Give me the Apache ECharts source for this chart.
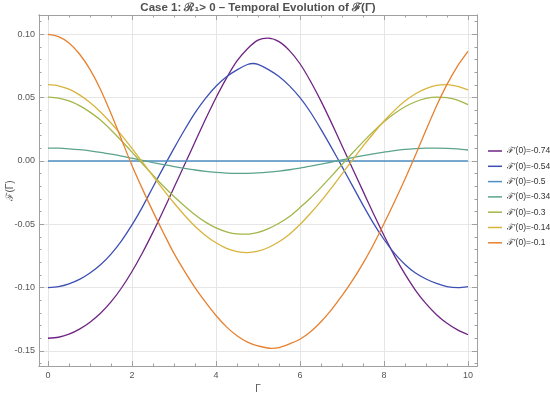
<!DOCTYPE html>
<html>
<head>
<meta charset="utf-8">
<script src="https://cdn.jsdelivr.net/npm/echarts@6/dist/echarts.min.js"></script>
<style>html,body{margin:0;padding:0;background:#fff}#c{width:550px;height:396px}</style>
</head>
<body>
<div id="c"></div>
<script>
// ---- data ----
const seriesNames = ['ℱ′(0)=-0.74','ℱ′(0)=-0.54','ℱ′(0)=-0.5','ℱ′(0)=-0.34','ℱ′(0)=-0.3','ℱ′(0)=-0.14','ℱ′(0)=-0.1'];

const gQuarter = [0,0.25,0.5,0.75,1,1.25,1.5,1.75,2,2.25,2.5,2.75,3,3.25,3.5,3.75,4,4.25,4.5,4.75,5,5.25,5.5,5.75,6,6.25,6.5,6.75,7,7.25,7.5,7.75,8,8.25,8.5,8.75,9,9.25,9.5,9.75,10];

const gPurple = [0,0.25,0.5,0.75,1,1.25,1.5,1.75,2,2.25,2.5,2.75,3,3.25,3.5,3.75,4,4.25,4.5,4.75,5,5.23,5.5,5.75,6,6.25,6.5,6.75,7,7.25,7.5,7.75,8,8.25,8.5,8.75,9,9.25,9.5,9.75,10];
const fPurple = [-0.140,-0.1392,-0.1368,-0.1328,-0.1273,-0.1203,-0.1113,-0.1003,-0.0873,-0.0725,-0.0562,-0.0389,-0.021,-0.003,0.015,0.033,0.050,0.0655,0.079,0.0887,0.0954,0.097,0.0943,0.0872,0.0768,0.0630,0.0473,0.0301,0.0121,-0.0059,-0.0238,-0.0417,-0.0588,-0.0749,-0.0894,-0.1021,-0.1127,-0.1214,-0.1282,-0.1334,-0.1372];

const gBlue = [0,0.25,0.5,0.75,1,1.25,1.5,1.75,2,2.25,2.5,2.75,3,3.25,3.5,3.75,4,4.25,4.5,4.75,4.88,5,5.25,5.5,5.75,6,6.25,6.5,6.75,7,7.25,7.5,7.75,8,8.25,8.5,8.75,9,9.25,9.5,9.76,10];
const fBlue = [-0.100,-0.0992,-0.097,-0.0935,-0.0885,-0.082,-0.0735,-0.063,-0.0505,-0.0362,-0.0205,-0.005,0.010,0.0245,0.038,0.0495,0.059,0.0665,0.072,0.0762,0.077,0.0763,0.0722,0.0667,0.0593,0.0500,0.0385,0.0250,0.0106,-0.0044,-0.0196,-0.0348,-0.0492,-0.0620,-0.0730,-0.0817,-0.0885,-0.0932,-0.0967,-0.0992,-0.100,-0.0992];

const gLight = [0,2.5,5,7.5,10];
const fLight = [0,0,0,0,0];

const fTeal = [0.0102,0.0101,0.0096,0.0089,0.0080,0.0068,0.0054,0.0039,0.0022,0.0005,-0.0012,-0.0028,-0.0044,-0.0058,-0.0071,-0.0082,-0.0090,-0.0095,-0.0098,-0.0097,-0.0094,-0.0088,-0.0080,-0.0069,-0.0056,-0.0041,-0.0025,-0.0008,0.0009,0.0026,0.0042,0.0057,0.0070,0.0082,0.0091,0.0097,0.0101,0.0102,0.0100,0.0095,0.0087];

const fGreen = [0.0505,0.0497,0.0474,0.0437,0.0386,0.0323,0.0245,0.0160,0.0070,-0.0022,-0.0112,-0.0200,-0.0281,-0.0355,-0.0424,-0.0483,-0.0528,-0.0559,-0.0576,-0.0578,-0.0564,-0.0534,-0.0492,-0.0438,-0.0368,-0.0292,-0.0208,-0.0119,-0.0028,0.0063,0.0151,0.0234,0.0309,0.0375,0.0428,0.0468,0.0494,0.0505,0.0500,0.0480,0.0445];

const fYellow = [0.0603,0.0594,0.0567,0.0522,0.0462,0.0387,0.0300,0.0204,0.0099,-0.0009,-0.0119,-0.0228,-0.0332,-0.0428,-0.0515,-0.0588,-0.0646,-0.0690,-0.0715,-0.0723,-0.0712,-0.0683,-0.0638,-0.0578,-0.0502,-0.0413,-0.0317,-0.0212,-0.0101,0.0008,0.0117,0.0219,0.0316,0.0400,0.0473,0.0531,0.0572,0.0597,0.0603,0.0589,0.0561];

const gOrange = [0,0.25,0.5,0.75,1,1.25,1.5,1.75,2,2.25,2.5,2.75,3,3.25,3.5,3.75,4,4.25,4.5,4.75,5,5.32,5.5,5.75,6,6.25,6.5,6.75,7,7.25,7.5,7.75,8,8.25,8.5,8.75,9,9.25,9.5,9.75,10];
const fOrange = [0.100,0.0982,0.0932,0.0845,0.0723,0.0565,0.0375,0.0170,-0.0035,-0.0222,-0.040,-0.0568,-0.073,-0.087,-0.100,-0.1115,-0.122,-0.131,-0.138,-0.143,-0.146,-0.148,-0.1474,-0.1444,-0.1408,-0.1349,-0.1270,-0.1174,-0.1064,-0.0943,-0.0808,-0.0659,-0.0494,-0.0322,-0.0142,0.0048,0.0245,0.0435,0.0605,0.0750,0.0866];

const xMajor = [0,2,4,6,8,10];
const xMinor = [0,0.5,1,1.5,2,2.5,3,3.5,4,4.5,5,5.5,6,6.5,7,7.5,8,8.5,9,9.5,10];
const yMajor = [-0.15,-0.10,-0.05,0,0.05,0.10];
const yMinor = [-0.16,-0.15,-0.14,-0.13,-0.12,-0.11,-0.10,-0.09,-0.08,-0.07,-0.06,-0.05,-0.04,-0.03,-0.02,-0.01,0,0.01,0.02,0.03,0.04,0.05,0.06,0.07,0.08,0.09,0.10,0.11];

const colors = ['#6f2483','#3d4fb5','#4f8fc4','#5ca38d','#a2b748','#d9b43c','#e7802f'];
const allX = [gPurple,gBlue,gLight,gQuarter,gQuarter,gQuarter,gOrange];
const allY = [fPurple,fBlue,fLight,fTeal,fGreen,fYellow,fOrange];

const XMIN=-0.214, XMAX=10.214, YMIN=-0.1619, YMAX=0.1153;
const FONT = 'Liberation Sans';
const frame = {show:true, onZero:false, lineStyle:{color:'#a0a0a0', width:1}};
const tickStyle = {color:'#a0a0a0', width:1};

function xAx(pos, vals, len, labels, extra){
  return Object.assign({type:'value', position:pos, min:XMIN, max:XMAX,
    axisLine: frame,
    axisTick:{show:true, inside:true, length:len, customValues:vals, lineStyle:tickStyle},
    axisLabel: labels ? {show:true, customValues:vals, margin:5, fontSize:9, color:'#555', fontFamily:FONT} : {show:false},
    splitLine:{show:false}, minorTick:{show:false}}, extra||{});
}
function yAx(pos, vals, len, labels, extra){
  return Object.assign({type:'value', position:pos, min:YMIN, max:YMAX,
    axisLine: frame,
    axisTick:{show:true, inside:true, length:len, customValues:vals, lineStyle:tickStyle},
    axisLabel: labels ? {show:true, customValues:vals, margin:4, fontSize:9, color:'#555', fontFamily:FONT,
      formatter:v=>v.toFixed(2)} : {show:false},
    splitLine:{show:false}, minorTick:{show:false}}, extra||{});
}

const chart = echarts.init(document.getElementById('c'), null, {renderer:'canvas'});
chart.setOption({
  animation:false,
  backgroundColor:'#fff',
  title:{text:'Case 1: ℛ₁> 0 – Temporal Evolution of ℱ(Γ)', left:258, top:2, padding:0, textAlign:'center',
    textStyle:{fontSize:11.5, fontWeight:'bold', color:'#505050', fontFamily:FONT}},
  grid:{left:39, right:73, top:15, bottom:30, containLabel:false, outerBoundsMode:'none'},
  legend:{orient:'vertical', left:488, top:145, padding:0, icon:'rect', itemWidth:14, itemHeight:1.5, itemGap:3.3,
    data:seriesNames,
    textStyle:{fontSize:8.5, lineHeight:12, color:'#333', fontFamily:FONT}},
  xAxis:[
    xAx('bottom', xMajor, 5, true, {name:'Γ', nameLocation:'middle', nameGap:18, nameMoveOverlap:false,
      nameTextStyle:{fontSize:10, color:'#555', fontFamily:FONT},
      splitLine:{show:true, lineStyle:{color:'#e6e6e6', width:1}}}),
    xAx('bottom', xMinor, 2.5, false),
    xAx('top', xMajor, 5, false),
    xAx('top', xMinor, 2.5, false)
  ],
  yAxis:[
    yAx('left', yMajor, 5, true, {name:'ℱ(Γ)', nameLocation:'middle', nameGap:24, nameMoveOverlap:false,
      nameTextStyle:{fontSize:10, color:'#555', fontFamily:FONT},
      splitLine:{show:true, lineStyle:{color:'#e6e6e6', width:1}}}),
    yAx('left', yMinor, 2.5, false),
    yAx('right', yMajor, 5, false),
    yAx('right', yMinor, 2.5, false)
  ],
  series: seriesNames.map((n,i)=>({
    name:n, type:'line', xAxisIndex:0, yAxisIndex:0, smooth:0.3, showSymbol:false, symbol:'none',
    color:colors[i], lineStyle:{width:1.3, color:colors[i]},
    data: allX[i].map((g,k)=>[g, allY[i][k]])
  }))
});
</script>
</body>
</html>
